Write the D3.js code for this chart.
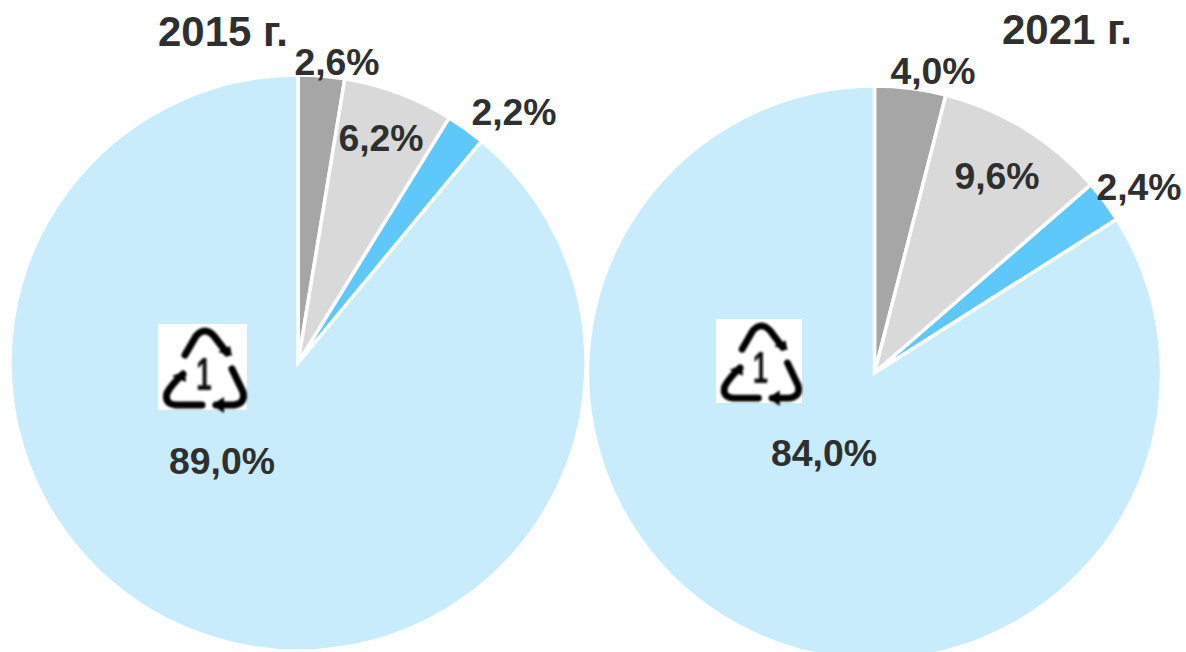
<!DOCTYPE html>
<html>
<head>
<meta charset="utf-8">
<script src="https://cdn.jsdelivr.net/npm/d3@7"></script>
<style>
  html, body { margin: 0; padding: 0; background: #fff; }
  svg { display: block; }
  text { font-family: "Liberation Sans", Arial, sans-serif; font-weight: bold; fill: #2f2f2f; text-anchor: middle; }
</style>
</head>
<body>
<div id="graph"></div>
<script>
// values, in percent
var categories = ["a", "b", "c", "pet"];
var years = ["2015 г.", "2021 г."];
var values2015 = [2.6, 6.2, 2.2, 89.0];
var values2021 = [4.0, 9.6, 2.4, 84.0];
var colors = ["#a6a6a6", "#d9d9d9", "#5fc8fa", "#c9ecfd"];

var width = 1186, height = 652;

// layout of the two pies, labels sit where the original had them
var layouts = [
  { cx: 298, cy: 363, r: 288, title: [223, 46], labels: [[337, 75], [381, 151], [514, 125], [222, 474]], icon: [158, 324, 89, 86] },
  { cx: 874.5, cy: 373, r: 287, title: [1067, 44], labels: [[933, 84], [997, 189], [1139, 200], [824, 466]], icon: [716, 319, 86, 84] }
];

var fmt = d => d.toFixed(1).replace(".", ",") + "%";

var svg = d3.select("#graph").append("svg")
    .attr("width", width)
    .attr("height", height);

// the sign in the original is a small upscaled bitmap, so it is soft
svg.append("defs").append("filter")
    .attr("id", "soft")
    .append("feGaussianBlur")
    .attr("stdDeviation", 0.9);

var color = d3.scaleOrdinal().domain(categories).range(colors);
var pie = d3.pie().sort(null);

// recycling sign, drawn in a 89x86 box
var iconArrows = [
  "M27 31 L38 12 Q47 2 56 12 L69 29",
  "M25 50 Q14 60 9 69 Q6 80 18 81 L44 81",
  "M58 81 L76 81 Q88 79 85 68 L74 45"
];
var iconHeads = ["M60 28 L74 32 L72 22", "M14 52 L27 47 L28 58", "M66 73 L54 81 L66 89"];

[values2015, values2021].forEach(function (values, k) {
  var l = layouts[k];
  var arc = d3.arc().innerRadius(0).outerRadius(l.r);

  var g = svg.append("g")
      .attr("transform", "translate(" + l.cx + "," + l.cy + ")");

  g.selectAll("path")
      .data(pie(values))
      .enter().append("path")
      .attr("d", arc)
      .attr("fill", (d, i) => color(categories[i]))
      .attr("stroke", "#fff")
      .attr("stroke-width", 3.5);

  var icon = svg.append("g")
      .attr("transform", "translate(" + l.icon[0] + "," + l.icon[1] + ") scale(" + l.icon[2] / 89 + "," + l.icon[3] / 86 + ")");
  icon.append("rect").attr("width", 89).attr("height", 86).attr("fill", "#fff");
  var sign = icon.append("g").attr("filter", "url(#soft)");
  sign.selectAll("path.arrow")
      .data(iconArrows)
      .enter().append("path")
      .attr("class", "arrow")
      .attr("d", d => d)
      .attr("fill", "none")
      .attr("stroke", "#000")
      .attr("stroke-width", 7)
      .attr("stroke-linecap", "round");
  sign.selectAll("path.head")
      .data(iconHeads)
      .enter().append("path")
      .attr("class", "head")
      .attr("d", d => d + "Z")
      .attr("fill", "#000");
  sign.append("text")
      .attr("font-size", 46)
      .style("font-weight", "bold")
      .style("fill", "#111")
      .attr("transform", "translate(46,66) scale(0.62,1)")
      .text("1");

  svg.selectAll("text.lab" + k)
      .data(values)
      .enter().append("text")
      .attr("class", "lab" + k)
      .attr("x", (d, i) => l.labels[i][0])
      .attr("y", (d, i) => l.labels[i][1])
      .attr("font-size", 37.4)
      .text(fmt);

  svg.append("text")
      .attr("x", l.title[0])
      .attr("y", l.title[1])
      .attr("font-size", 42)
      .text(years[k]);
});
</script>
</body>
</html>
